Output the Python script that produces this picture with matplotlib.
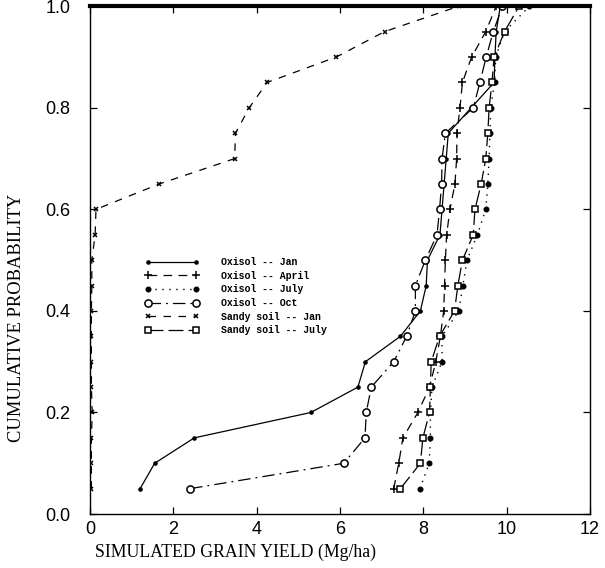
import matplotlib
matplotlib.use("Agg")
import matplotlib.pyplot as plt

# cumulative probability levels (20 simulated years)
prob = [0.05, 0.10, 0.15, 0.20, 0.25, 0.30, 0.35, 0.40, 0.45, 0.50,
        0.55, 0.60, 0.65, 0.70, 0.75, 0.80, 0.85, 0.90, 0.95, 1.00]

# simulated grain yield (Mg/ha)
oxisol_jan = [1.20, 1.55, 2.50, 5.30, 6.43, 6.61, 7.45, 7.93, 8.07, 8.10,
              8.40, 8.45, 8.50, 8.55, 8.60, 9.15, 9.70, 9.72, 9.75, 9.85]
oxisol_apr = [7.29, 7.41, 7.51, 7.87, 8.15, 8.30, 8.41, 8.49, 8.51, 8.53,
              8.56, 8.64, 8.76, 8.80, 8.81, 8.88, 8.94, 9.16, 9.50, 9.75]
oxisol_jul = [7.92, 8.14, 8.17, 8.17, 8.21, 8.45, 8.45, 8.85, 8.95, 9.05,
              9.30, 9.50, 9.55, 9.58, 9.60, 9.62, 9.71, 9.74, 9.95, 10.55]
oxisol_oct = [2.40, 6.09, 6.60, 6.63, 6.75, 7.29, 7.60, 7.81, 7.81, 8.05,
              8.33, 8.39, 8.44, 8.45, 8.53, 9.20, 9.36, 9.51, 9.68, 9.90]
sandy_jan = [0.03, 0.03, 0.03, 0.05, 0.03, 0.03, 0.03, 0.03, 0.04, 0.04,
             0.12, 0.14, 1.66, 3.47, 3.49, 3.82, 4.25, 5.91, 7.07, 8.85]
sandy_jul = [7.45, 7.93, 7.99, 8.15, 8.17, 8.19, 8.39, 8.75, 8.83, 8.94,
             9.20, 9.24, 9.39, 9.50, 9.55, 9.58, 9.65, 9.70, 9.95, 10.30]

labels = ["Oxisol -- Jan", "Oxisol -- April", "Oxisol -- July",
          "Oxisol -- Oct", "Sandy soil -- Jan", "Sandy soil -- July"]

fig = plt.figure(figsize=(6.05, 5.68), dpi=100)
ax = fig.add_axes([0.149, 0.095, 0.826, 0.894])

ax.plot(oxisol_jan, prob, color="k", lw=0.9, ls="-", marker="o", ms=2.3, label=labels[0])
ax.plot(oxisol_apr, prob, color="k", lw=0.9, ls=(0, (7, 5)), marker="+", ms=5.5, mew=1.1, label=labels[1])
ax.plot(oxisol_jul, prob, color="k", lw=1.0, ls=(0, (1, 4)), marker="o", ms=3.3, label=labels[2])
ax.plot(oxisol_oct, prob, color="k", lw=0.9, ls=(0, (10, 4, 1.5, 4)), marker="o", ms=5.2,
        mfc="white", mew=1.1, label=labels[3])
ax.plot(sandy_jan, prob, color="k", lw=0.9, ls=(0, (6, 6)), marker="x", ms=3.5, mew=1.1, label=labels[4])
ax.plot(sandy_jul, prob, color="k", lw=0.9, ls=(0, (12, 4)), marker="s", ms=4.3,
        mfc="white", mew=1.1, label=labels[5])

ax.set_xlim(0, 12)
ax.set_ylim(0, 1.0)
ax.set_xticks([0, 2, 4, 6, 8, 10, 12])
ax.set_yticks([0.0, 0.2, 0.4, 0.6, 0.8, 1.0])
ax.set_yticklabels(["0.0", "0.2", "0.4", "0.6", "0.8", "1.0"])
ax.tick_params(direction="in", top=True, right=True, length=5, width=0.9,
               labelsize=13, pad=5)
ax.tick_params(axis="y", pad=14)
for t in ax.get_xticklabels() + ax.get_yticklabels():
    t.set_family("Liberation Sans")

ax.spines["top"].set_linewidth(3)
for s in ["left", "right", "bottom"]:
    ax.spines[s].set_linewidth(1.0)

ax.set_xlabel("SIMULATED GRAIN YIELD (Mg/ha)", family="Liberation Serif", fontsize=12.8)
ax.set_ylabel("CUMULATIVE PROBABILITY", family="Liberation Serif", fontsize=13.3)
# labels sit off-centre in the original
ax.xaxis.set_label_coords(0.29, -0.058)
ax.yaxis.set_label_coords(-0.13, 0.386)

leg = ax.legend(loc="upper left", bbox_to_anchor=(0.093, 0.523), frameon=False,
                numpoints=2, handlelength=5.4, handletextpad=2.3, labelspacing=0.36,
                prop={"family": "Liberation Mono", "weight": "bold", "size": 7.1})

fig.savefig("out.png", dpi=100)
